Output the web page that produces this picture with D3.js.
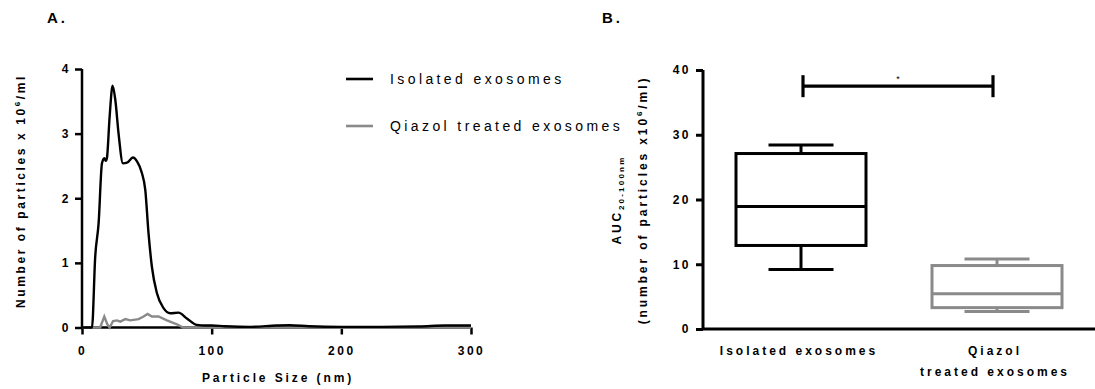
<!DOCTYPE html>
<html><head><meta charset="utf-8">
<script src="https://cdn.jsdelivr.net/npm/d3@7"></script>
<style>
body{margin:0;background:#fff;}
svg{display:block;font-family:"Liberation Sans",Arial,sans-serif;}
</style></head>
<body><svg id="c" width="1095" height="389"></svg>
<script>
// ---- Data: panel A (size distribution) ----
const isolatedNm  = [0,5,7.7,10.2,12.8,15.4,17.2,18.3,19.2,21.3,23.6,25.7,28.2,31.6,34.7,39.3,42.4,46.2,48.8,51.3,53.9,57.8,62.9,68,74.4,80.9,88.6,95,100,110,130,150,160,175,200,230,260,280,300];
const isolatedVal = [0,0,0,1.10,1.61,2.54,2.62,2.58,2.62,3.26,3.74,3.52,3.0,2.54,2.55,2.63,2.57,2.39,2.13,1.46,0.94,0.53,0.30,0.22,0.23,0.14,0.04,0.03,0.03,0.02,0.01,0.03,0.035,0.02,0.01,0.01,0.015,0.03,0.03];
const qiazolNm  = [0,14,17.2,19.5,21.3,24,27,29.5,33.4,37.2,43.6,47.5,50.6,53.9,59,65.5,73.2,78,100,300];
const qiazolVal = [0,0,0.17,0.05,0,0.1,0.11,0.09,0.13,0.11,0.13,0.17,0.21,0.17,0.17,0.11,0.05,0,0,0];
const xTicksA = [0,100,200,300];
const yTicksA = [0,1,2,3,4];
const legendLabels = ["Isolated exosomes","Qiazol treated exosomes"];

// ---- Data: panel B (box plot) ----
const groups = ["Isolated exosomes","Qiazol treated exosomes"];
const boxMin = [9.2, 2.7];
const boxQ1  = [12.9, 3.3];
const boxMed = [18.9, 5.45];
const boxQ3  = [27.1, 9.8];
const boxMax = [28.4, 10.8];
const sigY = 37.5;
const yTicksB = [0,10,20,30,40];

const colors = ["#000000","#8a8a8a"];
const svg = d3.select("#c");

// ================= Panel A =================
const xA = d3.scaleLinear().domain([0,300]).range([82,471]);
const yA = d3.scaleLinear().domain([0,4]).range([327.5,69]);

const gxA = svg.append("g").attr("transform","translate(0,327.5)")
  .call(d3.axisBottom(xA).tickValues(xTicksA).tickSize(7).tickPadding(12).tickFormat(d3.format("d")));
const gyA = svg.append("g").attr("transform","translate(82,0)")
  .call(d3.axisLeft(yA).tickValues(yTicksA).tickSize(7).tickPadding(4).tickFormat(d3.format("d")));
[gxA,gyA].forEach(g=>{
  g.selectAll("path,line").attr("stroke","#000").attr("stroke-width",2.5);
  g.select(".domain").attr("d", g===gxA ? `M82,0H471` : `M0,69V327.5`);
  g.selectAll("text").attr("font-size",12).attr("font-weight","bold").attr("fill","#000")
   .attr("font-family","Liberation Sans, Arial, sans-serif").style("letter-spacing","2.5px");
});

const lineA = d3.line().x(d=>xA(d[0])).y(d=>yA(d[1]));
svg.append("path").datum(qiazolNm.map((d,i)=>[d,qiazolVal[i]]))
  .attr("d", lineA.curve(d3.curveLinear)).attr("fill","none").attr("stroke",colors[1]).attr("stroke-width",2.4);
svg.append("path").datum(isolatedNm.map((d,i)=>[d,isolatedVal[i]]))
  .attr("d", d3.line().x(d=>xA(d[0])).y(d=>yA(d[1])).curve(d3.curveMonotoneX)).attr("fill","none").attr("stroke",colors[0]).attr("stroke-width",2.4);

// axis titles A
svg.append("text").attr("x",278).attr("y",382).attr("text-anchor","middle")
  .attr("font-size",12).attr("font-weight","bold").style("letter-spacing","2.9px").text("Particle Size (nm)");
const ylA = svg.append("text").attr("transform","translate(25,191) rotate(-90)").attr("text-anchor","middle")
  .attr("font-size",12).attr("font-weight","bold").style("letter-spacing","2.6px");
ylA.append("tspan").text("Number of particles x 10");
ylA.append("tspan").attr("font-size",8).attr("dy",-5).text("6");
ylA.append("tspan").attr("dy",5).text("/ml");

// legend
legendLabels.forEach((t,i)=>{
  const y = [79,126][i];
  svg.append("line").attr("x1",346).attr("x2",373).attr("y1",y).attr("y2",y)
    .attr("stroke",colors[i]).attr("stroke-width",2.6);
  svg.append("text").attr("x",390).attr("y",y+5).attr("font-size",14)
    .style("letter-spacing","3.4px").attr("fill","#000").text(t);
});

// panel labels
svg.append("text").attr("x",47).attr("y",23).attr("font-size",15).attr("font-weight","bold").style("letter-spacing","3px").text("A.");
svg.append("text").attr("x",602).attr("y",23).attr("font-size",15).attr("font-weight","bold").style("letter-spacing","3px").text("B.");

// ================= Panel B =================
const xB = d3.scaleBand().domain(groups).range([703,1095]).padding(0);
const yB = d3.scaleLinear().domain([0,40]).range([329,70]);

const gyB = svg.append("g").attr("transform","translate(703,0)")
  .call(d3.axisLeft(yB).tickValues(yTicksB).tickSize(7).tickPadding(5).tickFormat(d3.format("d")));
gyB.selectAll("path,line").attr("stroke","#000").attr("stroke-width",3);
gyB.select(".domain").attr("d","M0,70V329");
gyB.selectAll("text").attr("font-size",12).attr("font-weight","bold").attr("fill","#000")
  .attr("font-family","Liberation Sans, Arial, sans-serif").style("letter-spacing","2.5px");
svg.append("line").attr("x1",703).attr("x2",1095).attr("y1",yB(0)).attr("y2",yB(0)).attr("stroke","#000").attr("stroke-width",3);

const boxW = 130, capW = 65;
groups.forEach((g,i)=>{
  const cx = xB(g) + xB.bandwidth()/2;
  const c = colors[i];
  const G = svg.append("g").attr("stroke",c).attr("stroke-width",3).attr("fill","none");
  G.append("line").attr("x1",cx).attr("x2",cx).attr("y1",yB(boxMax[i])).attr("y2",yB(boxQ3[i]));
  G.append("line").attr("x1",cx).attr("x2",cx).attr("y1",yB(boxQ1[i])).attr("y2",yB(boxMin[i]));
  G.append("line").attr("x1",cx-capW/2).attr("x2",cx+capW/2).attr("y1",yB(boxMax[i])).attr("y2",yB(boxMax[i]));
  G.append("line").attr("x1",cx-capW/2).attr("x2",cx+capW/2).attr("y1",yB(boxMin[i])).attr("y2",yB(boxMin[i]));
  G.append("rect").attr("x",cx-boxW/2).attr("width",boxW).attr("y",yB(boxQ3[i])).attr("height",yB(boxQ1[i])-yB(boxQ3[i])).attr("fill","#fff");
  G.append("line").attr("x1",cx-boxW/2).attr("x2",cx+boxW/2).attr("y1",yB(boxMed[i])).attr("y2",yB(boxMed[i]));
});

// category labels
const cx0 = xB(groups[0]) + xB.bandwidth()/2, cx1 = xB(groups[1]) + xB.bandwidth()/2;
svg.append("text").attr("x",cx0-2).attr("y",355).attr("text-anchor","middle").attr("font-size",12).attr("font-weight","bold").style("letter-spacing","3px").text("Isolated exosomes");
svg.append("text").attr("x",cx1-2).attr("y",355).attr("text-anchor","middle").attr("font-size",12).attr("font-weight","bold").style("letter-spacing","3px").text("Qiazol");
svg.append("text").attr("x",cx1-2).attr("y",376).attr("text-anchor","middle").attr("font-size",12).attr("font-weight","bold").style("letter-spacing","3px").text("treated exosomes");

// significance bar
const sx0 = cx0+2, sx1 = cx1-4, sy = yB(sigY);
const S = svg.append("g").attr("stroke","#000").attr("stroke-width",3.2);
S.append("line").attr("x1",sx0).attr("x2",sx1).attr("y1",sy).attr("y2",sy);
S.append("line").attr("x1",sx0).attr("x2",sx0).attr("y1",sy-11).attr("y2",sy+11);
S.append("line").attr("x1",sx1).attr("x2",sx1).attr("y1",sy-11).attr("y2",sy+11);
svg.append("text").attr("x",(sx0+sx1)/2).attr("y",82).attr("text-anchor","middle").attr("font-size",9).text("*");

// y title B
const ylB1 = svg.append("text").attr("transform","translate(621,200) rotate(-90)").attr("text-anchor","middle")
  .attr("font-size",12).attr("font-weight","bold").style("letter-spacing","2.8px");
ylB1.append("tspan").text("AUC");
ylB1.append("tspan").attr("font-size",8).attr("dy",3).style("letter-spacing","2.2px").text("20-100nm");
const ylB2 = svg.append("text").attr("transform","translate(647,200) rotate(-90)").attr("text-anchor","middle")
  .attr("font-size",12).attr("font-weight","bold").style("letter-spacing","2.9px");
ylB2.append("tspan").text("(number of particles x10");
ylB2.append("tspan").attr("font-size",8).attr("dy",-5).text("6");
ylB2.append("tspan").attr("dy",5).text("/ml)");
</script></body></html>
